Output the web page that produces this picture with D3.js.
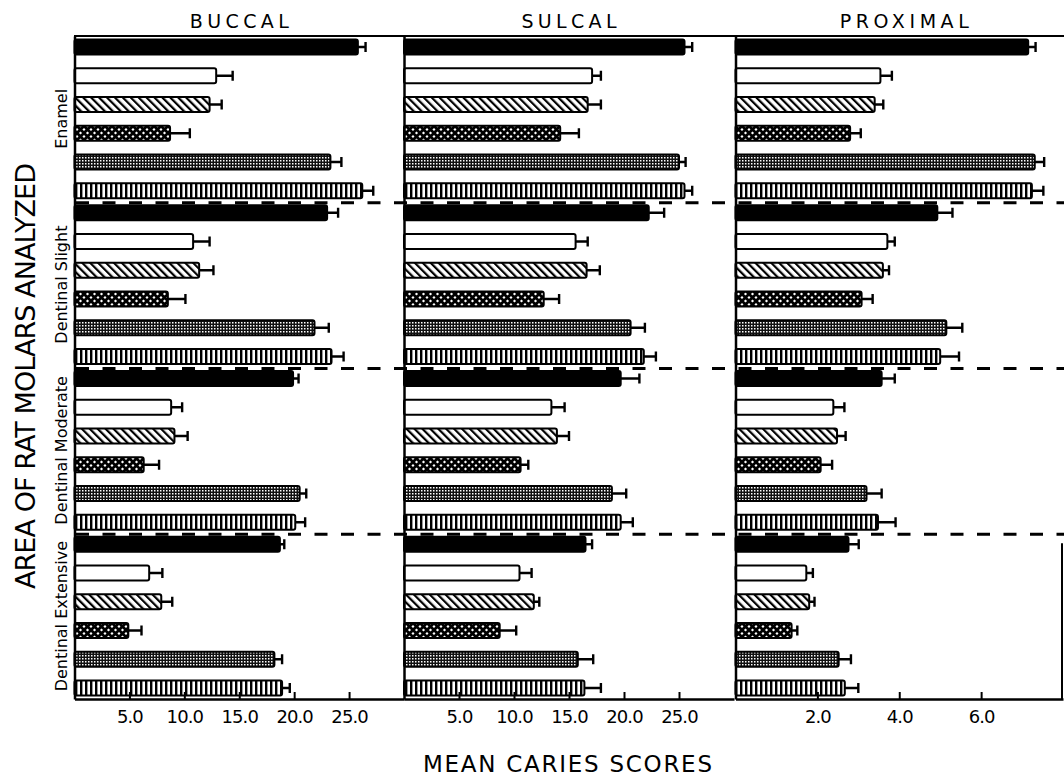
<!DOCTYPE html>
<html>
<head>
<meta charset="utf-8">
<script src="https://cdn.jsdelivr.net/npm/d3@7"></script>
<style>
  html, body { margin: 0; padding: 0; background: #fff; }
  svg { display: block; }
</style>
</head>
<body>
<svg id="chart" width="1064" height="777"></svg>
<script>
// ---------------- data ----------------
const panels = ["BUCCAL", "SULCAL", "PROXIMAL"];
const areas = ["Enamel", "Dentinal Slight", "Dentinal Moderate", "Dentinal Extensive"];
const series = ["solid", "open", "hatched", "crosshatched", "stippled", "striped"];

// rows = areas, columns = series
const buccalMeans = [
  [25.8, 12.9, 12.3, 8.7, 23.3, 26.2],
  [23.0, 10.8, 11.35, 8.5, 21.85, 23.4],
  [19.9, 8.8, 9.1, 6.3, 20.5, 20.1],
  [18.7, 6.8, 7.9, 4.9, 18.2, 18.9]
];
const buccalErrors = [
  [0.7, 1.5, 1.1, 1.8, 1.0, 1.0],
  [1.0, 1.5, 1.3, 1.6, 1.3, 1.1],
  [0.5, 1.0, 1.2, 1.4, 0.6, 0.9],
  [0.4, 1.2, 1.0, 1.2, 0.7, 0.7]
];
const sulcalMeans = [
  [25.5, 17.1, 16.7, 14.2, 25.0, 25.5],
  [22.25, 15.6, 16.6, 12.7, 20.6, 21.8],
  [19.7, 13.4, 13.9, 10.6, 18.9, 19.7],
  [16.5, 10.5, 11.8, 8.7, 15.8, 16.4]
];
const sulcalErrors = [
  [0.7, 0.8, 1.2, 1.7, 0.6, 0.7],
  [1.4, 1.1, 1.2, 1.4, 1.3, 1.1],
  [1.7, 1.2, 1.1, 0.7, 1.3, 1.1],
  [0.6, 1.1, 0.5, 1.5, 1.4, 1.5]
];
const proximalMeans = [
  [7.15, 3.54, 3.40, 2.80, 7.31, 7.24],
  [4.93, 3.71, 3.60, 3.08, 5.15, 5.00],
  [3.57, 2.39, 2.48, 2.08, 3.20, 3.48],
  [2.76, 1.73, 1.80, 1.37, 2.52, 2.67]
];
const proximalErrors = [
  [0.18, 0.28, 0.21, 0.26, 0.23, 0.28],
  [0.37, 0.18, 0.15, 0.27, 0.39, 0.46],
  [0.32, 0.27, 0.21, 0.28, 0.37, 0.43],
  [0.25, 0.16, 0.13, 0.14, 0.30, 0.33]
];
const scoreTicks = [5, 10, 15, 20, 25];
const proximalTicks = [2, 4, 6];
const panelDomainMax = [30, 30, 8];

const yTitle = "AREA OF RAT MOLARS ANALYZED";
const xTitle = "MEAN CARIES SCORES";

// ---------------- layout ----------------
const svg = d3.select("#chart");
const plotTop = 36, plotBottom = 699;
const panelRanges = [[74.5, 404], [404, 734], [735.5, 1063]];
const titleWidths = [99, 95, 129];
const allMeans = [buccalMeans, sulcalMeans, proximalMeans];
const allErrors = [buccalErrors, sulcalErrors, proximalErrors];
const allTicks = [scoreTicks, scoreTicks, proximalTicks];

svg.append("rect").attr("width", 1064).attr("height", 777).attr("fill", "#fff");

// ---------------- patterns ----------------
const defs = svg.append("defs");
function pat(id, w, h, transform) {
  const p = defs.append("pattern").attr("id", id)
    .attr("patternUnits", "userSpaceOnUse").attr("width", w).attr("height", h);
  if (transform) p.attr("patternTransform", transform);
  return p;
}
let p = pat("p-hatched", 5.6, 5.6, "rotate(-45)");
p.append("rect").attr("width", 5.6).attr("height", 5.6).attr("fill", "#fff");
p.append("rect").attr("width", 2.2).attr("height", 5.6).attr("fill", "#000");

p = pat("p-cross", 7, 7);
p.append("rect").attr("width", 7).attr("height", 7).attr("fill", "#fff");
p.append("path").attr("d", "M-1,-1L8,8M8,-1L-1,8").attr("stroke", "#000").attr("stroke-width", 2.8);

p = pat("p-grid", 3, 3);
p.append("rect").attr("width", 3).attr("height", 3).attr("fill", "#111");
p.append("rect").attr("x", 1).attr("y", 1).attr("width", 1.5).attr("height", 1.5).attr("fill", "#fff");

p = pat("p-stripe", 5, 5);
p.append("rect").attr("width", 5).attr("height", 5).attr("fill", "#fff");
p.append("rect").attr("width", 2.4).attr("height", 5).attr("fill", "#000");

const fills = d3.scaleOrdinal().domain(series)
  .range(["#000", "#fff", "url(#p-hatched)", "url(#p-cross)", "url(#p-grid)", "url(#p-stripe)"]);

// ---------------- scales ----------------
const yGroup = d3.scaleBand().domain(areas).range([plotTop, plotBottom]).padding(0);
const ySeries = d3.scaleBand().domain(series).range([0, yGroup.bandwidth()])
  .paddingInner(0.48).paddingOuter(0.12);

// ---------------- dashed separators ----------------
svg.append("g").selectAll("line").data(areas.slice(1)).join("line")
  .attr("x1", 74).attr("x2", 1064)
  .attr("y1", d => yGroup(d) + 1).attr("y2", d => yGroup(d) + 1)
  .attr("stroke", "#000").attr("stroke-width", 3)
  .attr("stroke-dasharray", "13,13.5").attr("stroke-dashoffset", -2);

// ---------------- panels ----------------
panels.forEach((name, pi) => {
  const x = d3.scaleLinear().domain([0, panelDomainMax[pi]]).range(panelRanges[pi]);
  const g = svg.append("g");
  const means = allMeans[pi], errs = allErrors[pi];

  const rows = [];
  areas.forEach((a, ai) => series.forEach((s, si) => {
    rows.push({ area: a, s: s, v: means[ai][si], e: errs[ai][si] });
  }));

  g.selectAll("rect.bar").data(rows).join("rect").attr("class", "bar")
    .attr("x", x(0))
    .attr("y", d => yGroup(d.area) + ySeries(d.s))
    .attr("width", d => x(d.v) - x(0))
    .attr("height", ySeries.bandwidth())
    .attr("rx", 2)
    .attr("fill", d => fills(d.s))
    .attr("stroke", "#000").attr("stroke-width", 2);

  const eg = g.append("g").attr("stroke", "#000").attr("stroke-width", 2.4).attr("fill", "none");
  eg.selectAll("path").data(rows).join("path")
    .attr("d", d => {
      const yc = yGroup(d.area) + ySeries(d.s) + ySeries.bandwidth() / 2;
      const x1 = x(d.v), x2 = x(d.v + d.e);
      return `M${x1},${yc}H${x2}M${x2},${yc - 5}V${yc + 5}`;
    });

  const yAxisScale = d3.scaleLinear().range([plotTop, plotBottom]);
  const la = g.append("g").attr("transform", `translate(${x(0)},0)`)
    .call(d3.axisLeft(yAxisScale).tickValues([]).tickSizeOuter(0));
  la.select(".domain").attr("stroke-width", 2.5);

  const ba = g.append("g").attr("transform", `translate(0,${plotBottom})`)
    .call(d3.axisBottom(x).tickValues(allTicks[pi]).tickFormat(d3.format(".1f"))
      .tickSizeInner(-7).tickSizeOuter(0).tickPadding(11));
  ba.select(".domain").attr("stroke-width", 2.5);
  ba.selectAll(".tick line").attr("stroke-width", 2);
  ba.selectAll(".tick text").attr("font-family", "DejaVu Sans").attr("font-size", 18)
    .attr("fill", "#000").attr("letter-spacing", -0.9);

  const cx = (panelRanges[pi][0] + panelRanges[pi][1]) / 2;
  g.append("text").attr("x", cx + (pi === 2 ? 5 : 0)).attr("y", 28)
    .attr("text-anchor", "middle").attr("font-family", "DejaVu Sans")
    .attr("font-size", 19).attr("fill", "#000")
    .attr("textLength", titleWidths[pi]).attr("lengthAdjust", "spacing")
    .text(name);
});

svg.append("line").attr("x1", 74).attr("x2", 1064).attr("y1", plotTop).attr("y2", plotTop)
  .attr("stroke", "#000").attr("stroke-width", 2);
svg.append("line").attr("x1", 1062).attr("x2", 1062)
  .attr("y1", yGroup(areas[3]) + 10).attr("y2", plotBottom)
  .attr("stroke", "#000").attr("stroke-width", 2);

svg.append("g").selectAll("text").data(areas).join("text")
  .attr("transform", d => `translate(67,${yGroup(d) + yGroup.bandwidth() / 2}) rotate(-90)`)
  .attr("text-anchor", "middle").attr("font-family", "DejaVu Sans")
  .attr("font-size", 16).attr("fill", "#000")
  .text(d => d);

svg.append("text")
  .attr("transform", "translate(35,376) rotate(-90)")
  .attr("text-anchor", "middle").attr("font-family", "DejaVu Sans")
  .attr("font-size", 27).attr("fill", "#000")
  .attr("textLength", 426).attr("lengthAdjust", "spacing")
  .text(yTitle);

svg.append("text")
  .attr("x", 567.5).attr("y", 772)
  .attr("text-anchor", "middle").attr("font-family", "DejaVu Sans")
  .attr("font-size", 23).attr("fill", "#000")
  .attr("textLength", 289).attr("lengthAdjust", "spacing")
  .text(xTitle);
</script>
</body>
</html>
